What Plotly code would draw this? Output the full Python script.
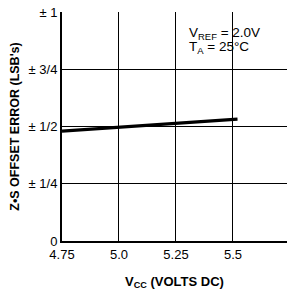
import plotly.graph_objects as go

vcc = [4.75, 5.0, 5.25, 5.52]
offset_err = [0.48, 0.497, 0.513, 0.532]

x_ticks = [4.75, 5.0, 5.25, 5.5]
x_tick_labels = ["4.75", "5.0", "5.25", "5.5"]
y_ticks = [0, 0.25, 0.5, 0.75, 1.0]
y_tick_labels = ["0", "± 1/4", "± 1/2", "± 3/4", "± 1"]

fig = go.Figure()
fig.add_trace(go.Scatter(x=vcc, y=offset_err, mode="lines",
                         line=dict(color="black", width=3.2), showlegend=False))

font = "Liberation Sans, Arial, sans-serif"
fig.update_layout(
    width=287, height=296,
    margin=dict(l=62, r=0, t=12, b=55),
    paper_bgcolor="white", plot_bgcolor="white",
    font=dict(family=font, color="black", size=13),
    xaxis=dict(range=[4.75, 5.7372], tickvals=x_ticks, ticktext=x_tick_labels,
               automargin=False,
               showgrid=True, gridcolor="black", gridwidth=1,
               showline=True, linecolor="black", linewidth=2, zeroline=False,
               ticks="", tickfont=dict(size=13, family=font),
               title=dict(text="<b>V<sub>CC</sub> (VOLTS DC)</b>", font=dict(size=13, family=font), standoff=16)),
    yaxis=dict(range=[0, 1], tickvals=y_ticks, ticktext=y_tick_labels,
               automargin=False,
               showgrid=True, gridcolor="black", gridwidth=1,
               showline=True, linecolor="black", linewidth=2, zeroline=False,
               ticks="", tickfont=dict(size=13, family=font),
               title=dict(text="<b>Z•S OFFSET ERROR (LSB's)</b>", font=dict(size=12.5, family=font), standoff=6)),
)
fig.add_annotation(x=5.305, y=0.908, xref="x", yref="y", xanchor="left", yanchor="middle",
                   text="V<sub>REF</sub> = 2.0V", showarrow=False, font=dict(size=13.5, family=font),
                   borderpad=0)
fig.add_annotation(x=5.305, y=0.845, xref="x", yref="y", xanchor="left", yanchor="middle",
                   text="T<sub>A</sub> = 25°C", showarrow=False, font=dict(size=13.5, family=font),
                   borderpad=0)
fig.write_html("out.html", config={"displayModeBar": False},
               post_script="document.body.style.margin='0';document.body.style.padding='0';")
